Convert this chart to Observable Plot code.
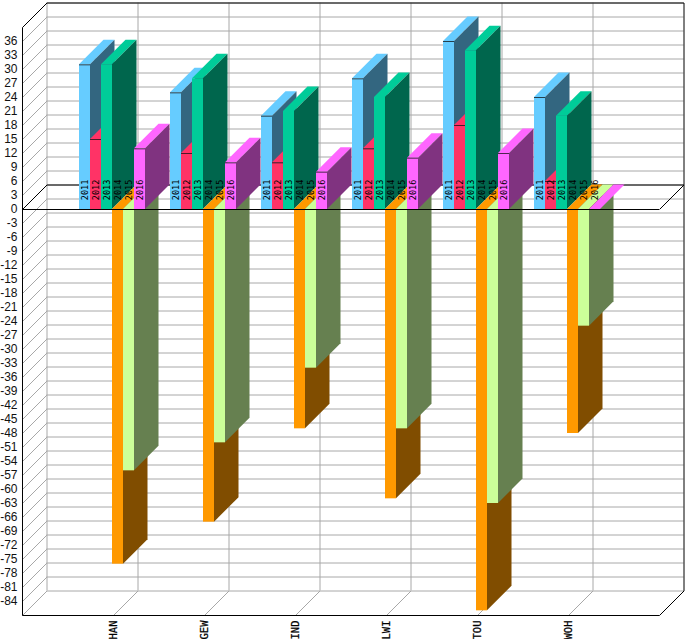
<!DOCTYPE html>
<html>
<head>
<meta charset="utf-8">
<script src="https://cdn.jsdelivr.net/npm/d3@7"></script>
<script src="https://cdn.jsdelivr.net/npm/@observablehq/plot@0.6"></script>
<style>html,body{margin:0;padding:0;background:#fff}svg{display:block}</style>
</head>
<body>
<div id="chart"></div>
<script>
const categories = ["HAN", "GEW", "IND", "LWI", "TOU", "WOH"];
const years = ["2011", "2012", "2013", "2014", "2015", "2016"];
const s2011 = [31, 25, 20, 28, 36, 24];
const s2012 = [15, 12, 10, 13, 18, 6];
const s2013 = [31, 28, 21, 24, 34, 20];
const s2014 = [-76, -67, -47, -62, -86, -48];
const s2015 = [-56, -50, -34, -47, -63, -25];
const s2016 = [13, 10, 8, 11, 12, 0];
const series = [s2011, s2012, s2013, s2014, s2015, s2016];
const frontColors = ["#66ccff", "#ff3366", "#00cc99", "#ff9900", "#ccff99", "#ff66ff"];
const sideColors = ["#336680", "#801a33", "#00664d", "#804d00", "#668050", "#803380"];
const yTicks = d3.range(-84, 37, 3);
const gridValues = d3.range(-87, 40, 3);

// Depth of the 3D box, in data units of each scale
const DX = 24.5 / 91;
const DY = 24.5 * 3 / 14;
const BAR = 11 / 91;
const SHIFT = -1 / 91;
const Y_MIN = -87, Y_MAX = 39, X_MAX = 7;

const bars = [];
series.forEach((vals, s) => vals.forEach((v, c) => {
  const x1 = c + 1 + SHIFT + (s - 3) * BAR;
  bars.push({order: c * 6 + s, s, c, v, x1, x2: x1 + BAR, year: years[s]});
}));
bars.sort((a, b) => a.order - b.order);

const stroke = "#a8a8a8";
const marks = [];

// walls: horizontal grid on the back wall, diagonals on the left wall
marks.push(Plot.ruleY(gridValues, {y: d => d + DY, x1: DX, x2: X_MAX + DX, stroke, strokeWidth: 1}));
marks.push(Plot.link(gridValues, {x1: 0, x2: DX, y1: d => d, y2: d => d + DY, stroke, strokeWidth: 1}));
marks.push(Plot.ruleX(d3.range(0, 7), {x: d => d + DX, y1: Y_MIN + DY, y2: Y_MAX + DY, stroke, strokeWidth: 1}));
marks.push(Plot.link(d3.range(0, 7), {x1: d => d, x2: d => d + DX, y1: Y_MIN, y2: Y_MIN + DY, stroke, strokeWidth: 1}));

// frame
const black = {stroke: "#000", strokeWidth: 1};
const frame = [
  [0, Y_MIN, X_MAX, Y_MIN], [0, Y_MIN, 0, Y_MAX],
  [0, Y_MAX, DX, Y_MAX + DY], [DX, Y_MAX + DY, X_MAX + DX, Y_MAX + DY],
  [X_MAX + DX, Y_MAX + DY, X_MAX + DX, Y_MIN + DY], [X_MAX + DX, Y_MIN + DY, X_MAX, Y_MIN],
  [0, 0, DX, DY], [DX, DY, X_MAX + DX, DY], [X_MAX + DX, DY, X_MAX, 0]
];
marks.push(Plot.link(frame, {x1: d => d[0], y1: d => d[1], x2: d => d[2], y2: d => d[3], ...black}));

// bars drawn back-to-front, one group at a time
for (const b of bars) {
  const top = Math.max(b.v, 0);
  const lo = Math.min(b.v, 0);
  // top face (at value for positive bars, at zero for negative)
  marks.push(Plot.areaX([{y: top, a: b.x1, z: b.x2}, {y: top + DY, a: b.x1 + DX, z: b.x2 + DX}],
    {y: "y", x1: "a", x2: "z", fill: frontColors[b.s], curve: "linear"}));
  if (b.v !== 0) {
    // side face
    marks.push(Plot.areaY([{x: b.x2, lo, hi: top}, {x: b.x2 + DX, lo: lo + DY, hi: top + DY}],
      {x: "x", y1: "lo", y2: "hi", fill: sideColors[b.s], curve: "linear"}));
    // front face
    marks.push(Plot.rect([b], {x1: "x1", x2: "x2", y1: 0, y2: "v", fill: frontColors[b.s]}));
  }
  if (b.v > 0 && b.s !== 2) marks.push(Plot.ruleY([b.v], {x1: b.x1, x2: b.x2, stroke: "#111", strokeOpacity: 0.75, strokeWidth: 1}));
}

// zero line in front
marks.push(Plot.ruleY([0], {x1: 0, x2: X_MAX, stroke: "#000", strokeWidth: 1}));

// labels on the bars
marks.push(Plot.text(bars, {
  x: d => (d.x1 + d.x2) / 2, y: 2.0, text: "year", rotate: -90, textAnchor: "start",
  fontFamily: "DejaVu Sans Mono", fontSize: 8.5, fill: "#000"
}));

marks.push(Plot.axisY(yTicks, {
  anchor: "left", tickSize: 0, tickPadding: 5, label: null, tickFormat: String,
  fontFamily: "Liberation Sans", fontSize: 12, fill: "#111"
}));
marks.push(Plot.text(categories, {
  x: (d, i) => i + 1, y: Y_MIN, text: d => d, rotate: -90, textAnchor: "end", dy: 5,
  fontFamily: "DejaVu Sans Mono", fontSize: 10.5, fontWeight: 500, stroke: "#000", strokeWidth: 0.25, fill: "#000"
}));

const chart = Plot.plot({
  width: 689, height: 639,
  marginLeft: 22, marginRight: 30, marginTop: 27, marginBottom: 24,
  style: {background: "#fff", overflow: "visible"},
  x: {domain: [0, X_MAX], range: [22, 659], axis: null},
  y: {domain: [Y_MIN, Y_MAX], range: [615, 27], axis: null},
  marks
});
document.body.style.background = "#f0f0f0";
document.getElementById("chart").append(chart);
</script>
</body>
</html>
